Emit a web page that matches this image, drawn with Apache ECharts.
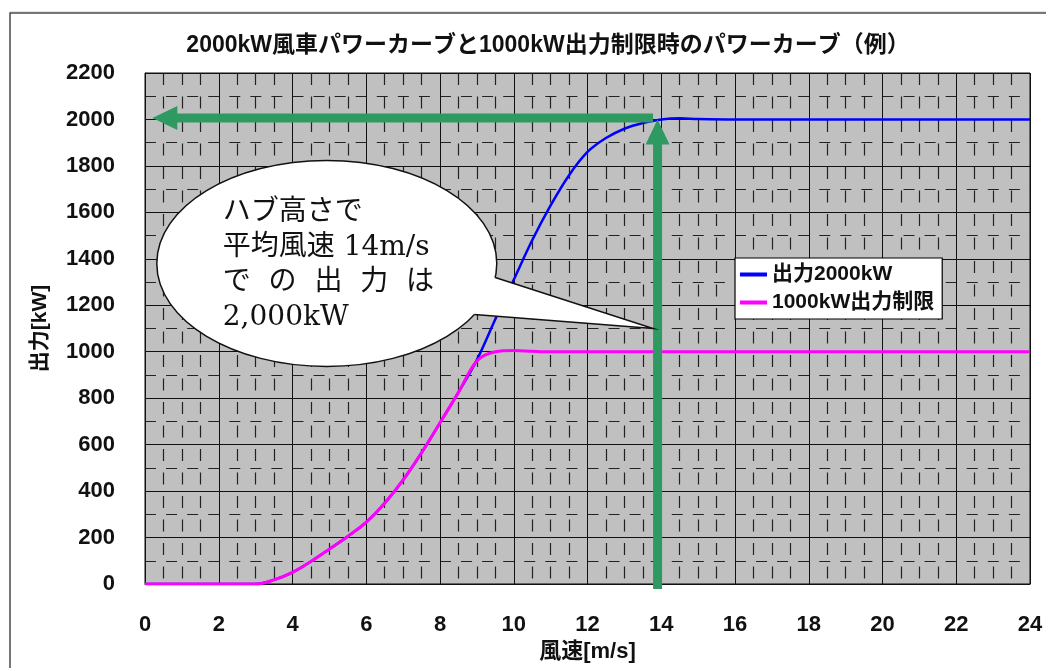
<!DOCTYPE html>
<html>
<head>
<meta charset="utf-8">
<script src="https://cdn.jsdelivr.net/npm/echarts@6/dist/echarts.min.js"></script>
<style>
html,body{margin:0;padding:0;background:#fff;}
#chart{width:1046px;height:668px;}
</style>
</head>
<body>
<div id="chart"></div>
<script>
// ---- data ----
const chartTitle = '2000kW風車パワーカーブと1000kW出力制限時のパワーカーブ（例）';
const xName = '風速[m/s]';
const yName = '出力[kW]';
const seriesNames = ['出力2000kW', '1000kW出力制限'];
const windSpeed = [0,1,2,2.5,3,3.5,4,4.5,5,5.5,6,6.5,7,7.5,8,8.5,9,9.5,10,10.5,11,11.5,12,12.5,13,13.5,14,14.5,15,16,17,18,19,20,21,22,23,24];
const power2000 = [0,0,0,0,0,18,50,97,150,205,266,348,448,565,694,825,965,1140,1310,1480,1630,1760,1860,1920,1960,1985,2000,2005,2002,2000,2000,2000,2000,2000,2000,2000,2000,2000];
const powerLimited = [0,0,0,0,0,18,50,97,150,205,266,348,448,565,694,825,960,1000,1005,1002,1000,1000,1000,1000,1000,1000,1000,1000,1000,1000,1000,1000,1000,1000,1000,1000,1000,1000];
const calloutLines = ['ハブ高さで', '平均風速 14m/s', 'で  の  出  力  は', '2,000kW'];
// annotation anchors (data space)
const arrowTarget = [13.9, 2000];
const arrowLeftEnd = [0.2, 2000];
const calloutCenter = [4.93, 1380];
const calloutTip = [13.78, 1100];

const F = "'Liberation Sans','Noto Sans CJK JP',sans-serif";
const chart = echarts.init(document.getElementById('chart'), null, {renderer: 'canvas'});

function pairs(xs, ys){ return xs.map((x,i)=>[x, ys[i]]); }

chart.setOption({
  animation: false,
  backgroundColor: '#fff',
  grid: {left: 145, top: 73, right: 16, bottom: 78, show: true, backgroundColor: '#c0c0c0', borderColor: '#111', borderWidth: 1},
  legend: {
    data: seriesNames, orient: 'vertical', left: 735, top: 258,
    backgroundColor: '#fff', borderColor: '#000', borderWidth: 1.2,
    padding: [6, 8, 6, 5], itemGap: 7, itemWidth: 27, itemHeight: 4, icon: 'rect', itemStyle: {borderWidth: 0},
    textStyle: {fontFamily: F, fontWeight: 'bold', fontSize: 21, color: '#111'}
  },
  xAxis: {
    type: 'value', min: 0, max: 24, interval: 2,
    name: xName, nameLocation: 'middle', nameGap: 57,
    nameTextStyle: {fontFamily: F, fontWeight: 'bold', fontSize: 22, color: '#111'},
    axisLine: {show: true, lineStyle: {color: '#111'}},
    axisTick: {show: false},
    axisLabel: {margin: 30, fontFamily: F, fontWeight: 'bold', fontSize: 22, color: '#111', formatter: v => String(v)},
    splitLine: {show: true, lineStyle: {color: '#111', width: 1}},
    minorTick: {show: false, splitNumber: 4},
    minorSplitLine: {show: true, lineStyle: {color: '#222', width: 1.2, type: [12, 11.5], dashOffset: 0}}
  },
  yAxis: {
    type: 'value', min: 0, max: 2200, interval: 200,
    name: yName, nameLocation: 'middle', nameGap: 94, nameRotate: 90,
    nameTextStyle: {fontFamily: F, fontWeight: 'bold', fontSize: 21, color: '#111'},
    axisLine: {show: true, lineStyle: {color: '#111'}},
    axisTick: {show: false},
    axisLabel: {margin: 30, fontFamily: F, fontWeight: 'bold', fontSize: 22, color: '#111', formatter: v => String(v)},
    splitLine: {show: true, lineStyle: {color: '#111', width: 1}},
    minorTick: {show: false, splitNumber: 2},
    minorSplitLine: {show: true, lineStyle: {color: '#222', width: 1.2, type: [11, 10.07], dashOffset: 0}}
  },
  series: [
    {name: seriesNames[0], type: 'line', data: pairs(windSpeed, power2000), showSymbol: false, symbol: 'none',
     smooth: 0.35, lineStyle: {color: '#0000ff', width: 2.5}, itemStyle: {color: '#0000ff'}, z: 3},
    {name: seriesNames[1], type: 'line', data: pairs(windSpeed, powerLimited), showSymbol: false, symbol: 'none',
     smooth: 0.35, lineStyle: {color: '#ff00ff', width: 3}, itemStyle: {color: '#ff00ff'}, z: 4}
  ]
});

// ---- annotations ----
const px = (p) => chart.convertToPixel({gridIndex: 0}, p);
const tgt = px(arrowTarget);
const leftEnd = px(arrowLeftEnd);
const base0 = px([arrowTarget[0], 0]);
const green = '#2e9a62';
const shaft = 9, headW = 24, headL = 25;
const cc = px(calloutCenter);
const tip = px(calloutTip);
const rx = 170, ry = 103;
function onEllipse(dy){ return [cc[0] + rx*Math.sqrt(1 - (dy/ry)*(dy/ry)), cc[1] + dy]; }
const A = onEllipse(14), B = onEllipse(51);

const graphics = [
  // outer frame
  {type: 'rect', silent: true, z: 100, shape: {x: 10, y: 13, width: 1100, height: 720}, style: {fill: null, stroke: '#4a4a4a', lineWidth: 1.5}},
  {type: 'line', silent: true, z: 100, shape: {x1: 10, y1: 11.5, x2: 1046, y2: 11.5}, style: {stroke: '#efe6b0', lineWidth: 1}},
  // title
  {type: 'text', silent: true, z: 100, style: {text: chartTitle, x: 548, y: 46, align: 'center', verticalAlign: 'middle',
    font: "bold 23px 'Liberation Sans','Noto Sans CJK JP',sans-serif", fill: '#111'}},
  // vertical arrow
  {type: 'rect', silent: true, z: 50, shape: {x: tgt[0] - shaft/2, y: tgt[1] + headL - 1, width: shaft, height: base0[1] + 5 - (tgt[1] + headL - 1)}, style: {fill: green}},
  {type: 'polygon', silent: true, z: 50, shape: {points: [[tgt[0], tgt[1]], [tgt[0] - headW/2, tgt[1] + headL], [tgt[0] + headW/2, tgt[1] + headL]]}, style: {fill: green}},
  // horizontal arrow
  {type: 'rect', silent: true, z: 50, shape: {x: leftEnd[0] + headL - 1, y: leftEnd[1] - 1.5 - shaft/2, width: tgt[0] - shaft/2 - (leftEnd[0] + headL - 1), height: shaft}, style: {fill: green}},
  {type: 'polygon', silent: true, z: 50, shape: {points: [[leftEnd[0], leftEnd[1] - 1.5], [leftEnd[0] + headL, leftEnd[1] - 1.5 - headW/2], [leftEnd[0] + headL, leftEnd[1] - 1.5 + headW/2]]}, style: {fill: green}},
  // callout
  {type: 'ellipse', silent: true, z: 60, shape: {cx: cc[0], cy: cc[1], rx: rx, ry: ry}, style: {fill: '#fff', stroke: '#111', lineWidth: 1.5}},
  {type: 'polygon', silent: true, z: 61, shape: {points: [A, tip, B, [cc[0] + 100, cc[1] + 20]]}, style: {fill: '#fff', stroke: null}},
  {type: 'polyline', silent: true, z: 62, shape: {points: [A, tip, B]}, style: {fill: null, stroke: '#111', lineWidth: 1.5}}
];
calloutLines.forEach((t, i) => {
  graphics.push({type: 'text', silent: true, z: 63, style: {text: t, x: cc[0] - 104, y: cc[1] - 51 + i*35, align: 'left', verticalAlign: 'middle',
    font: "28px 'DejaVu Serif','Noto Sans CJK JP',serif", fill: '#111'}});
});
chart.setOption({graphic: graphics});
</script>
</body>
</html>
